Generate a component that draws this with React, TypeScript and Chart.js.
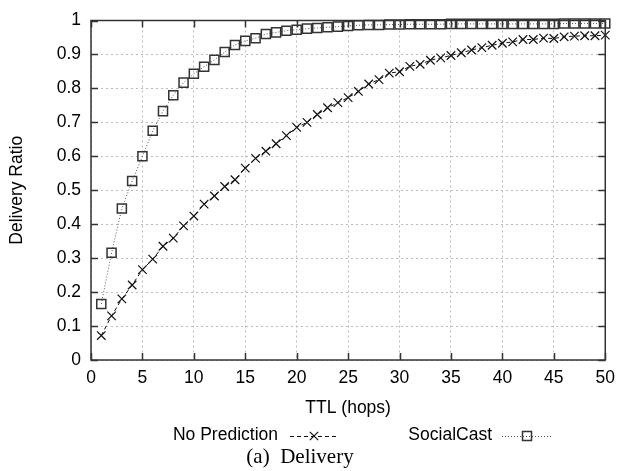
import React, { useEffect, useRef } from 'react';
import { Chart, registerables } from 'chart.js';

Chart.register(...registerables);

const ttl = [1, 2, 3, 4, 5, 6, 7, 8, 9, 10, 11, 12, 13, 14, 15, 16, 17, 18, 19, 20, 21, 22, 23, 24, 25, 26, 27, 28, 29, 30, 31, 32, 33, 34, 35, 36, 37, 38, 39, 40, 41, 42, 43, 44, 45, 46, 47, 48, 49, 50];

const noPrediction = [0.072, 0.13, 0.18, 0.221, 0.266, 0.297, 0.335, 0.359, 0.395, 0.424, 0.459, 0.483, 0.511, 0.531, 0.565, 0.594, 0.615, 0.637, 0.661, 0.685, 0.7, 0.723, 0.743, 0.758, 0.773, 0.791, 0.813, 0.826, 0.845, 0.849, 0.865, 0.871, 0.883, 0.89, 0.897, 0.905, 0.913, 0.92, 0.927, 0.933, 0.937, 0.944, 0.944, 0.948, 0.947, 0.952, 0.954, 0.955, 0.955, 0.957];

const socialCast = [0.165, 0.316, 0.446, 0.527, 0.6, 0.675, 0.733, 0.78, 0.817, 0.843, 0.864, 0.884, 0.907, 0.928, 0.94, 0.948, 0.96, 0.965, 0.97, 0.973, 0.976, 0.978, 0.98, 0.982, 0.984, 0.986, 0.987, 0.987, 0.988, 0.988, 0.989, 0.989, 0.989, 0.989, 0.99, 0.99, 0.99, 0.99, 0.99, 0.99, 0.99, 0.99, 0.99, 0.99, 0.99, 0.991, 0.991, 0.991, 0.991, 0.991];

const seriesNames = ['No Prediction', 'SocialCast'];
const xTitle = 'TTL (hops)';
const yTitle = 'Delivery Ratio';
const caption = '(a)  Delivery';

const SANS = "'Liberation Sans', Arial, Helvetica, sans-serif";
const SERIF = "'Liberation Serif', 'Times New Roman', serif";

function drawCross(ctx: CanvasRenderingContext2D, x: number, y: number, r: number) {
  ctx.beginPath();
  ctx.moveTo(x - r, y - r);
  ctx.lineTo(x + r, y + r);
  ctx.moveTo(x - r, y + r);
  ctx.lineTo(x + r, y - r);
  ctx.stroke();
}

const decor = {
  id: 'decor',
  afterDraw(chart: any) {
    const { ctx, chartArea: a, scales } = chart;
    const xs = scales.x;
    const ys = scales.y;
    ctx.save();
    ctx.setLineDash([]);
    ctx.strokeStyle = '#333';
    ctx.lineWidth = 1.5;
    ctx.strokeRect(a.left, a.top, a.right - a.left, a.bottom - a.top);
    const tl = 7;
    ctx.beginPath();
    for (const t of xs.ticks) {
      const px = Math.round(xs.getPixelForValue(t.value)) + 0.5;
      ctx.moveTo(px, a.bottom);
      ctx.lineTo(px, a.bottom - tl);
      ctx.moveTo(px, a.top);
      ctx.lineTo(px, a.top + tl);
    }
    for (const t of ys.ticks) {
      const py = Math.round(ys.getPixelForValue(t.value)) + 0.5;
      ctx.moveTo(a.left, py);
      ctx.lineTo(a.left + tl, py);
      ctx.moveTo(a.right, py);
      ctx.lineTo(a.right - tl, py);
    }
    ctx.stroke();

    ctx.fillStyle = '#000';
    ctx.font = `17.5px ${SANS}`;
    ctx.textAlign = 'center';
    ctx.textBaseline = 'middle';
    ctx.fillText(xTitle, (a.left + a.right) / 2, 408);

    ctx.save();
    ctx.translate(17, (a.top + a.bottom) / 2);
    ctx.rotate(-Math.PI / 2);
    ctx.fillText(yTitle, 0, 0);
    ctx.restore();

    // legend
    const ly = 435;
    ctx.textAlign = 'right';
    ctx.fillText(seriesNames[0], 278, ly);
    ctx.fillText(seriesNames[1], 492, ly);

    const sy = ly + 1;
    ctx.strokeStyle = '#111';
    ctx.lineWidth = 1;
    ctx.setLineDash([4, 3]);
    ctx.beginPath();
    ctx.moveTo(290, sy + 0.5);
    ctx.lineTo(338, sy + 0.5);
    ctx.stroke();
    ctx.setLineDash([]);
    ctx.lineWidth = 1.2;
    drawCross(ctx, 314, sy, 4.2);

    ctx.strokeStyle = '#555';
    ctx.lineWidth = 1;
    ctx.setLineDash([1, 2]);
    ctx.beginPath();
    ctx.moveTo(502, sy + 0.5);
    ctx.lineTo(552, sy + 0.5);
    ctx.stroke();
    ctx.setLineDash([]);
    ctx.strokeStyle = '#333';
    ctx.lineWidth = 1.5;
    ctx.strokeRect(527 - 4.5, sy - 4.5, 9, 9);

    ctx.font = `21px ${SERIF}`;
    ctx.textAlign = 'center';
    ctx.fillStyle = '#000';
    ctx.fillText(caption, 300, 457);
    ctx.restore();
  },
};

export default function App() {
  const ref = useRef<HTMLCanvasElement | null>(null);
  useEffect(() => {
    document.body.style.margin = '0';
    const canvas = ref.current!;
    const chart = new Chart(canvas, {
      type: 'line',
      data: {
        datasets: [
          {
            label: seriesNames[0],
            data: ttl.map((t, i) => ({ x: t, y: noPrediction[i] })),
            borderColor: '#111',
            borderWidth: 1,
            borderDash: [4, 3],
            pointStyle: 'crossRot',
            pointRadius: 6,
            pointBorderColor: '#111',
            pointBorderWidth: 1.2,
            pointBackgroundColor: 'rgba(0,0,0,0)',
            fill: false,
            tension: 0,
            clip: false as any,
          },
          {
            label: seriesNames[1],
            data: ttl.map((t, i) => ({ x: t, y: socialCast[i] })),
            borderColor: '#555',
            borderWidth: 1,
            borderDash: [1, 2],
            pointStyle: 'rect',
            pointRadius: 6.4,
            pointBorderColor: '#333',
            pointBorderWidth: 1.5,
            pointBackgroundColor: 'rgba(0,0,0,0)',
            fill: false,
            tension: 0,
            clip: false as any,
          },
        ],
      },
      options: {
        responsive: false,
        animation: false,
        devicePixelRatio: 1,
        layout: { padding: { top: 14, right: 12, left: 0, bottom: 0 } },
        plugins: {
          legend: { display: false },
          tooltip: { enabled: false },
        },
        scales: {
          x: {
            type: 'linear',
            min: 0,
            max: 50,
            ticks: {
              stepSize: 5,
              color: '#000',
              font: { family: SANS, size: 17.5 },
              padding: 8,
              maxRotation: 0,
            },
            grid: { color: '#bbb', lineWidth: 1, drawTicks: false },
            border: { display: false, dash: [2, 3] },
            afterFit: (s: any) => {
              s.height = 111;
            },
          },
          y: {
            type: 'linear',
            min: 0,
            max: 1,
            ticks: {
              stepSize: 0.1,
              color: '#000',
              font: { family: SANS, size: 17.5 },
              padding: 10,
              callback: (v: any) => String(Number(Number(v).toFixed(1))),
            },
            grid: { color: '#bbb', lineWidth: 1, drawTicks: false },
            border: { display: false, dash: [2, 3] },
            afterFit: (s: any) => {
              s.width = 91;
            },
          },
        },
      },
      plugins: [decor],
    });
    return () => chart.destroy();
  }, []);
  return (
    <div style={{ position: 'fixed', left: 0, top: 0, width: 623, height: 471 }}>
      <canvas ref={ref} width={623} height={471} style={{ width: 623, height: 471, display: 'block' }} />
    </div>
  );
}
